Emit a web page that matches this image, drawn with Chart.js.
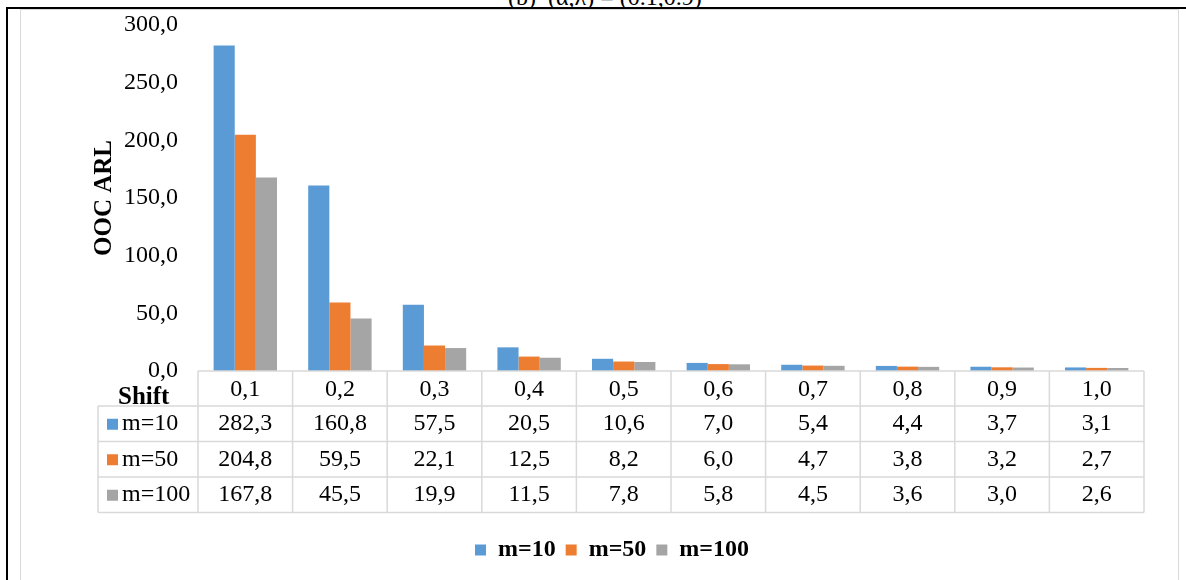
<!DOCTYPE html>
<html>
<head>
<meta charset="utf-8">
<script src="https://cdn.jsdelivr.net/npm/chart.js@4/dist/chart.umd.min.js"></script>
<style>
  html, body { margin: 0; padding: 0; background: #fff; }
  .page { position: relative; width: 1186px; height: 580px; overflow: hidden; }
  .cap { position: absolute; left: 0; top: 0; width: 1186px; height: 7px; overflow: hidden; }
  .cap span {
    position: absolute; left: 508px; top: -16px; line-height: 24px;
    font: 24px "Liberation Serif", serif; color: #000; white-space: nowrap;
  }
  .rule-top { position: absolute; left: 7px; top: 7px; width: 1179px; height: 2px; background: #000; }
  .rule-left { position: absolute; left: 6px; top: 7px; width: 2px; height: 573px; background: #000; }
  .frame { position: absolute; left: 20px; top: 9px; width: 1157px; height: 600px; border: 1.5px solid #d9d9d9; border-bottom: none; }
  canvas { position: absolute; left: 0; top: 0; }
</style>
</head>
<body>
<div class="page">
  <div class="cap"><span>(b) &nbsp;(α,λ) = (0.1,0.9)</span></div>
  <div class="rule-top"></div>
  <div class="rule-left"></div>
  <div class="frame"></div>
  <canvas id="arlChart" width="1186" height="580"></canvas>
</div>
<script>
/* =========================
   Data
========================= */
const shifts = ["0,1", "0,2", "0,3", "0,4", "0,5", "0,6", "0,7", "0,8", "0,9", "1,0"];
const seriesNames = ["m=10", "m=50", "m=100"];
const m10 = [282.3, 160.8, 57.5, 20.5, 10.6, 7.0, 5.4, 4.4, 3.7, 3.1];
const m50 = [204.8, 59.5, 22.1, 12.5, 8.2, 6.0, 4.7, 3.8, 3.2, 2.7];
const m100 = [167.8, 45.5, 19.9, 11.5, 7.8, 5.8, 4.5, 3.6, 3.0, 2.6];
const yTicks = [0, 50, 100, 150, 200, 250, 300];

const COLORS = ["#5b9bd5", "#ed7d31", "#a5a5a5"];
const SERIF = "'Liberation Serif', 'Times New Roman', serif";
const GRID = "#d9d9d9";

const fmt = v => v.toFixed(1).replace(".", ",");

/* =========================
   Data table under the x axis
========================= */
const dataTable = {
  id: "dataTable",
  afterDraw(chart) {
    const { ctx, chartArea } = chart;
    const x = chart.scales.x;
    const n = shifts.length;
    const colW = (chartArea.right - chartArea.left) / n;
    const top = chartArea.bottom;
    const headH = 35;
    const rowH = 35.5;
    const labelLeft = 98;
    const bottom = top + headH + rowH * chart.data.datasets.length;

    ctx.save();
    ctx.strokeStyle = GRID;
    ctx.lineWidth = 1.5;
    ctx.beginPath();
    // horizontal lines
    ctx.moveTo(chartArea.left, top);
    ctx.lineTo(chartArea.right, top);
    for (let r = 0; r <= chart.data.datasets.length; r++) {
      const y = top + headH + r * rowH;
      ctx.moveTo(labelLeft, y);
      ctx.lineTo(chartArea.right, y);
    }
    // vertical lines
    for (let c = 0; c <= n; c++) {
      const xx = chartArea.left + c * colW;
      ctx.moveTo(xx, top);
      ctx.lineTo(xx, bottom);
    }
    ctx.moveTo(labelLeft, top + headH);
    ctx.lineTo(labelLeft, bottom);
    ctx.stroke();

    ctx.fillStyle = "#000";
    ctx.textBaseline = "middle";
    ctx.textAlign = "center";
    ctx.font = `24px ${SERIF}`;
    shifts.forEach((s, i) => {
      ctx.fillText(s, x.getPixelForValue(i), top + headH / 2 + 1);
    });

    chart.data.datasets.forEach((ds, r) => {
      const cy = top + headH + r * rowH + rowH / 2;
      ds.data.forEach((v, i) => {
        ctx.fillText(fmt(v), x.getPixelForValue(i), cy);
      });
      ctx.fillStyle = ds.backgroundColor;
      ctx.fillRect(107, cy - 5, 11, 11);
      ctx.fillStyle = "#000";
      ctx.textAlign = "left";
      ctx.fillText(ds.label, 122, cy);
      ctx.textAlign = "center";
    });

    // x axis title
    ctx.font = `bold 25px ${SERIF}`;
    ctx.textAlign = "left";
    ctx.fillText("Shift", 118, top + 27);
    ctx.restore();
  }
};

/* =========================
   Chart
========================= */
new Chart(document.getElementById("arlChart"), {
  type: "bar",
  data: {
    labels: shifts,
    datasets: [
      { label: seriesNames[0], data: m10, backgroundColor: COLORS[0] },
      { label: seriesNames[1], data: m50, backgroundColor: COLORS[1] },
      { label: seriesNames[2], data: m100, backgroundColor: COLORS[2] },
    ],
  },
  options: {
    responsive: false,
    animation: false,
    categoryPercentage: 0.67,
    barPercentage: 1.0,
    layout: { padding: { left: 80, right: 42, top: 25, bottom: 8 } },
    plugins: {
      tooltip: { enabled: false },
      legend: {
        position: "bottom",
        labels: {
          color: "#000",
          font: { family: SERIF, size: 24, weight: "bold" },
          boxWidth: 11,
          boxHeight: 11,
          padding: 10,
        },
      },
    },
    scales: {
      x: {
        grid: { display: false },
        border: { display: false },
        ticks: { display: false },
        afterFit: s => { s.height = 157; },
      },
      y: {
        min: 0,
        max: 300,
        afterBuildTicks: s => { s.ticks = yTicks.map(v => ({ value: v })); },
        grid: { display: false, drawTicks: false },
        border: { display: false },
        ticks: {
          padding: 20,
          color: "#000",
          font: { family: SERIF, size: 24 },
          callback: v => fmt(v),
        },
        title: {
          display: true,
          text: "OOC ARL",
          color: "#000",
          font: { family: SERIF, size: 25, weight: "bold" },
          padding: { top: 10, bottom: 0 },
        },
        afterFit: s => {
          s.width = 118;
          s.paddingTop = 0;
          s.paddingBottom = 0;
        },
      },
    },
  },
  plugins: [dataTable],
});
</script>
</body>
</html>
